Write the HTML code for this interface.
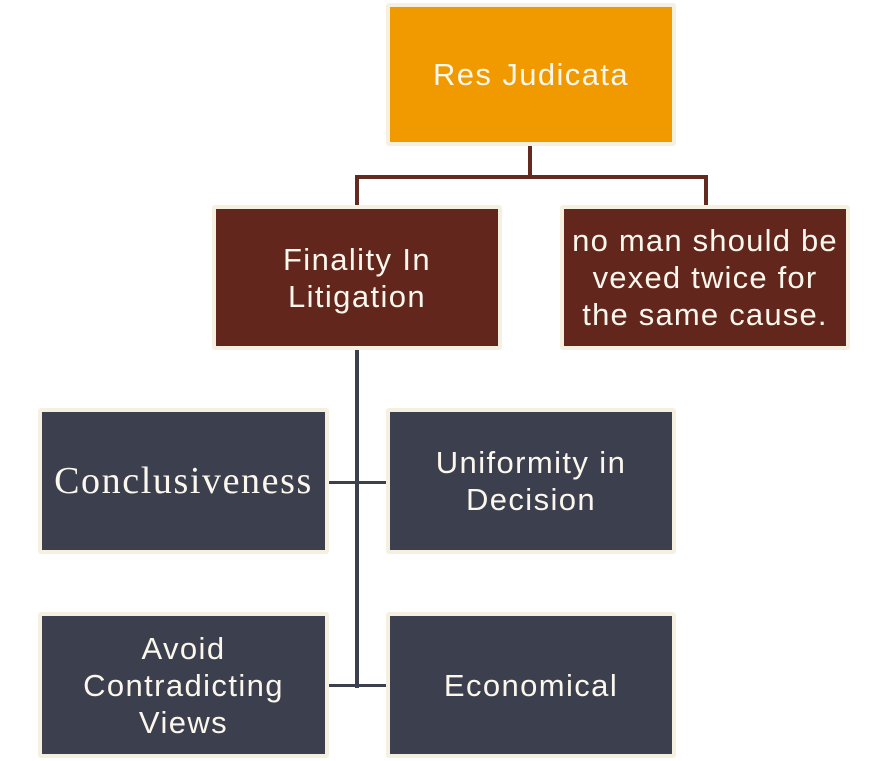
<!DOCTYPE html>
<html><head><style>
body{margin:0;width:889px;height:761px;background:#fff;position:relative;overflow:hidden;font-family:"Liberation Sans",sans-serif}
.b{position:absolute;box-sizing:border-box;border:4px solid #f6f0e1;border-radius:3px;display:flex;align-items:center;justify-content:center;text-align:center;color:#fbf7ec;font-size:31px;letter-spacing:1.4px;line-height:37px;white-space:nowrap}
.l{position:absolute}
</style></head><body>
<div class="l" style="left:528px;top:144px;width:4px;height:35px;background:#632a1f"></div>
<div class="l" style="left:355px;top:175px;width:353px;height:4px;background:#632a1f"></div>
<div class="l" style="left:355px;top:175px;width:4px;height:32px;background:#632a1f"></div>
<div class="l" style="left:704px;top:175px;width:4px;height:32px;background:#632a1f"></div>
<div class="l" style="left:355px;top:348px;width:4px;height:340px;background:#3c3f4e"></div>
<div class="l" style="left:327px;top:481px;width:61px;height:3px;background:#3c3f4e"></div>
<div class="l" style="left:327px;top:684px;width:61px;height:3px;background:#3c3f4e"></div>
<div class="b" style="left:386px;top:3px;width:290px;height:143px;background:#f09a00">Res Judicata</div>
<div class="b" style="left:212px;top:205px;width:290px;height:145px;background:#63261d">Finality In<br>Litigation</div>
<div class="b" style="left:560px;top:205px;width:290px;height:145px;background:#63261d;letter-spacing:1.2px">no man should be<br>vexed twice for<br>the same cause.</div>
<div class="b" style="left:38px;top:408px;width:291px;height:146px;background:#3c3f4e;font-family:'Liberation Serif',serif;font-size:38px;letter-spacing:1.6px">Conclusiveness</div>
<div class="b" style="left:386px;top:408px;width:290px;height:146px;background:#3c3f4e">Uniformity in<br>Decision</div>
<div class="b" style="left:38px;top:612px;width:291px;height:146px;background:#3c3f4e">Avoid<br>Contradicting<br>Views</div>
<div class="b" style="left:386px;top:612px;width:290px;height:146px;background:#3c3f4e">Economical</div>
</body></html>
